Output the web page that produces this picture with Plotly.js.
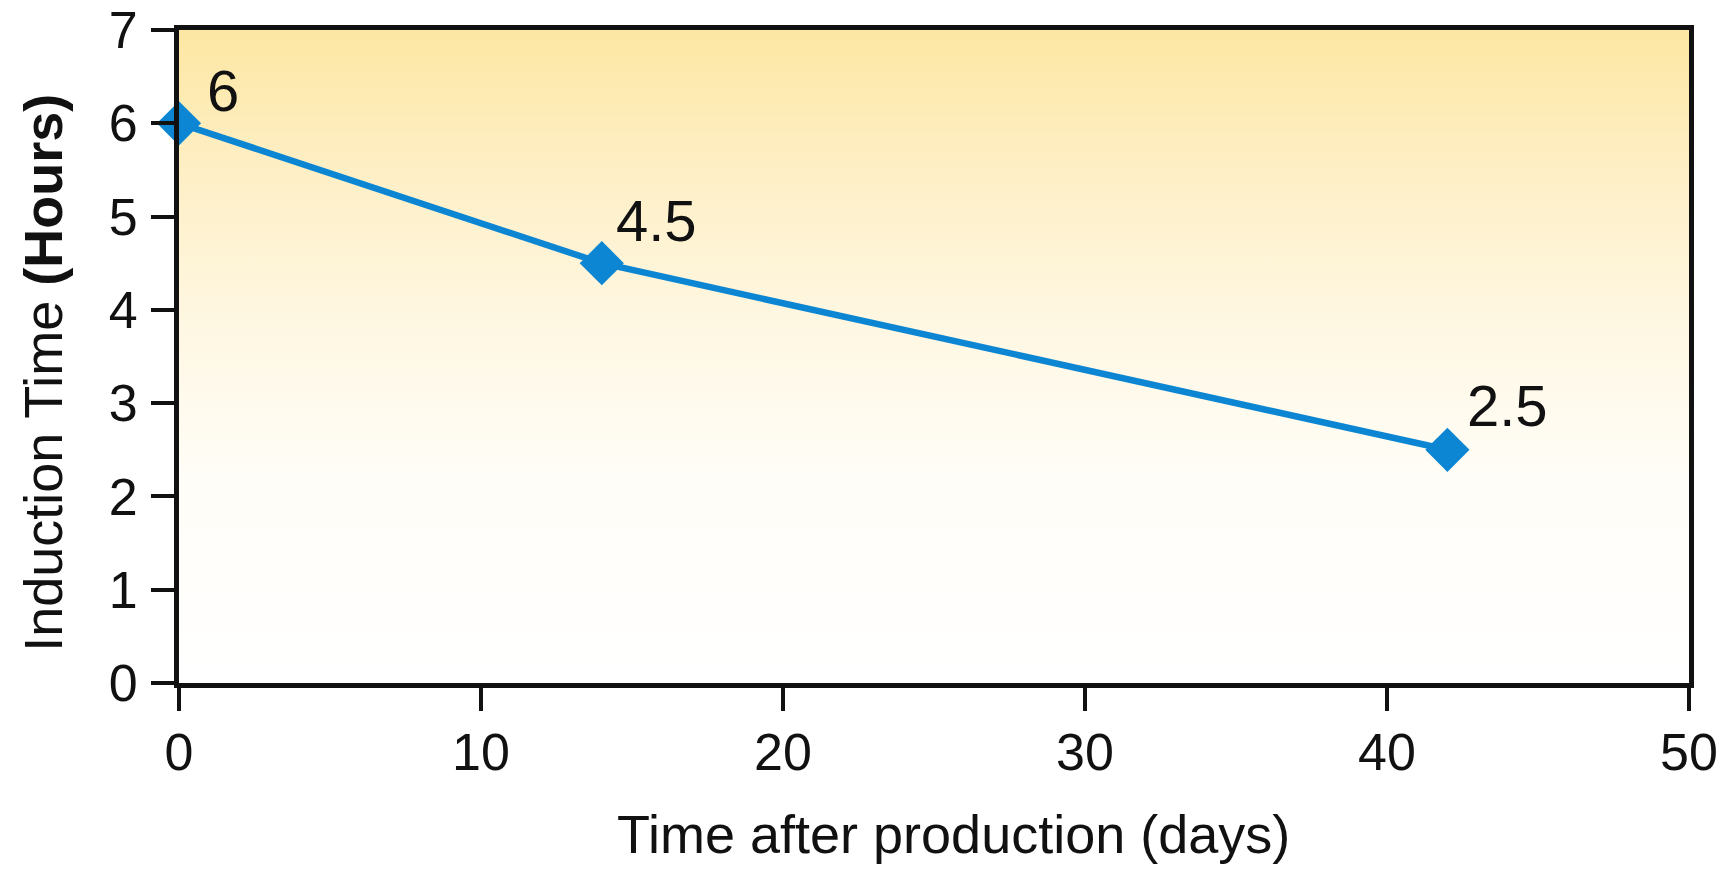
<!DOCTYPE html>
<html>
<head>
<meta charset="utf-8">
<script src="https://cdn.plot.ly/plotly-3.0.1.min.js"></script>
<style>
  html, body { margin: 0; padding: 0; background: #ffffff; }
  #chart { width: 1732px; height: 869px; }
</style>
</head>
<body>
<div id="chart"></div>
<script>
// Induction time of the product versus its age
const days = [0, 14, 42];
const inductionHours = [6, 4.5, 2.5];
const pointLabels = ['6', '4.5', '2.5'];
const xTicks = [0, 10, 20, 30, 40, 50];
const yTicks = [0, 1, 2, 3, 4, 5, 6, 7];

const FONT = '"Liberation Sans", Arial, Helvetica, sans-serif';
const BLUE = '#0c86d3';
const INK = '#111111';

// small pixel nudges so each value label sits clear of the line
const labelNudge = [{ dx: 8, dy: -12 }, { dx: -6, dy: -2 }, { dx: 0, dy: 0 }];

// soft yellow wash fading to white, drawn behind the plot area
const gradientSvg =
  '<svg xmlns="http://www.w3.org/2000/svg" width="100" height="100" preserveAspectRatio="none">' +
  '<defs><linearGradient id="g" x1="0" y1="0" x2="0" y2="1">' +
  '<stop offset="0" stop-color="#fde7a3"/>' +
  '<stop offset="0.22" stop-color="#feefc6"/>' +
  '<stop offset="0.45" stop-color="#fef7e2"/>' +
  '<stop offset="0.68" stop-color="#fffdf7"/>' +
  '<stop offset="1" stop-color="#ffffff"/>' +
  '</linearGradient></defs>' +
  '<rect width="100" height="100" fill="url(#g)"/></svg>';
const gradientSrc = 'data:image/svg+xml;charset=utf-8,' + encodeURIComponent(gradientSvg);

const trace = {
  x: days,
  y: inductionHours,
  type: 'scatter',
  mode: 'lines+markers',
  line: { color: BLUE, width: 6.5 },
  marker: { symbol: 'diamond', size: 34, color: BLUE },
  cliponaxis: false,
  hoverinfo: 'x+y'
};

const labelAnnotations = days.map((d, i) => ({
  x: d,
  y: inductionHours[i],
  xref: 'x',
  yref: 'y',
  text: pointLabels[i],
  showarrow: false,
  xanchor: 'left',
  yanchor: 'bottom',
  xshift: 18 + labelNudge[i].dx,
  yshift: 10 + labelNudge[i].dy,
  font: { family: FONT, size: 58, color: INK }
}));

const titleAnnotations = [
  {
    xref: 'paper', yref: 'paper',
    x: 0.5126, y: 0,
    yshift: -151,
    xanchor: 'center', yanchor: 'middle',
    text: 'Time after production (days)',
    showarrow: false,
    font: { family: FONT, size: 54, color: INK }
  },
  {
    xref: 'paper', yref: 'paper',
    x: 0, y: 0.475,
    xshift: -136,
    xanchor: 'center', yanchor: 'middle',
    textangle: -90,
    text: 'Induction Time <b>(Hours)</b>',
    showarrow: false,
    font: { family: FONT, size: 54, color: INK }
  }
];

const layout = {
  width: 1732,
  height: 869,
  margin: { l: 179, r: 43, t: 30, b: 186 },
  paper_bgcolor: '#ffffff',
  plot_bgcolor: 'rgba(0,0,0,0)',
  showlegend: false,
  font: { family: FONT, color: INK },
  images: [{
    source: gradientSrc,
    xref: 'paper', yref: 'paper',
    x: 0, y: 1, sizex: 1, sizey: 1,
    xanchor: 'left', yanchor: 'top',
    sizing: 'stretch',
    layer: 'below'
  }],
  xaxis: {
    range: [0, 50],
    tickvals: xTicks,
    ticktext: xTicks.map(String),
    ticks: 'outside',
    ticklen: 23,
    tickwidth: 4,
    tickcolor: INK,
    ticklabelstandoff: -3,
    showline: true,
    linecolor: INK,
    linewidth: 5,
    mirror: true,
    showgrid: false,
    zeroline: false,
    tickfont: { family: FONT, size: 52, color: INK }
  },
  yaxis: {
    range: [0, 7],
    tickvals: yTicks,
    ticktext: yTicks.map(String),
    ticks: 'outside',
    ticklen: 23,
    tickwidth: 4,
    tickcolor: INK,
    ticklabelstandoff: 3,
    showline: true,
    linecolor: INK,
    linewidth: 5,
    mirror: true,
    showgrid: false,
    zeroline: false,
    tickfont: { family: FONT, size: 52, color: INK }
  },
  annotations: labelAnnotations.concat(titleAnnotations)
};

Plotly.newPlot('chart', [trace], layout, { displayModeBar: false, staticPlot: true });
</script>
</body>
</html>
